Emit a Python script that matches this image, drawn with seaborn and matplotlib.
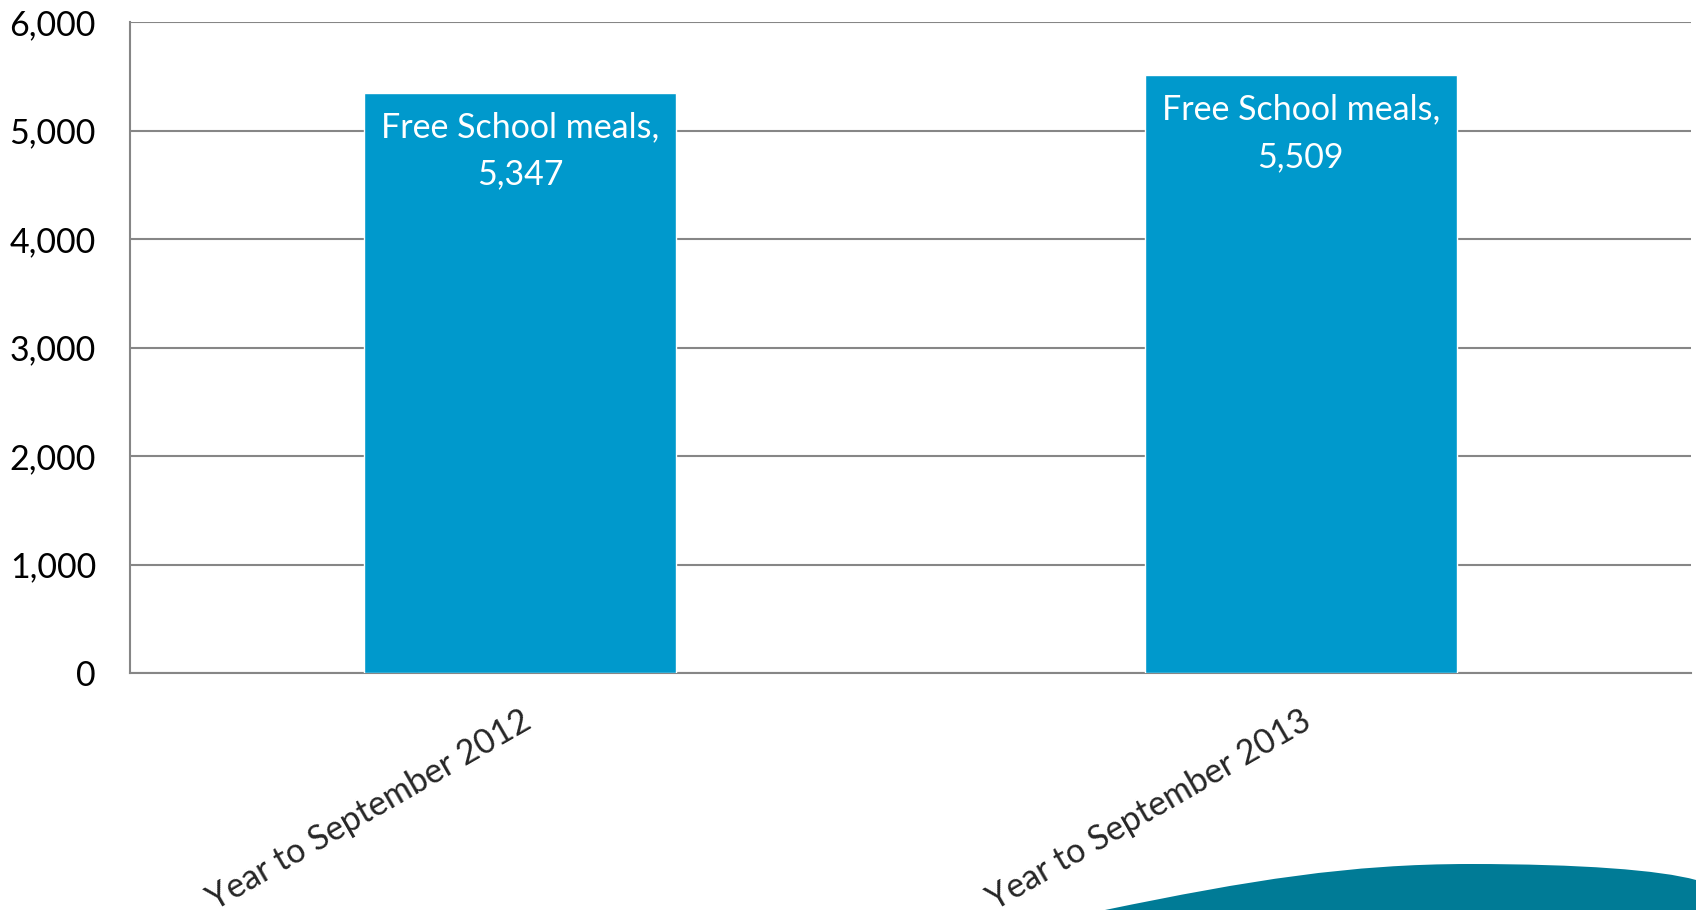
import numpy as np
import pandas as pd
import matplotlib
matplotlib.use("Agg")
import matplotlib.pyplot as plt
from matplotlib.patches import PathPatch
from matplotlib.path import Path
import seaborn as sns

categories = ["Year to September 2012", "Year to September 2013"]
values = [5347, 5509]
series_name = "Free School meals"
yticks = [0, 1000, 2000, 3000, 4000, 5000, 6000]

sns.set_style("white")
plt.rcParams["font.family"] = ["Lato", "DejaVu Sans"]

df = pd.DataFrame({"category": categories, "value": values})

fig = plt.figure(figsize=(16.96, 9.10), dpi=100)
ax = fig.add_axes([130 / 1696, 1 - 673 / 910, (1691 - 130) / 1696, (673 - 22) / 910])

sns.barplot(data=df, x="category", y="value", color="#0099CC", saturation=1,
            width=0.4, ax=ax, zorder=3)

ax.set_xlim(-0.5, 1.5)
ax.set_ylim(0, 6000)
ax.set_yticks(yticks)
ax.set_yticklabels([f"{v:,}" for v in yticks], fontsize=24.5, color="black")
ax.yaxis.grid(True, color="#868686", linewidth=1.5, zorder=0)
ax.set_axisbelow(True)
ax.set_xlabel("")
ax.set_ylabel("")

for side in ["top", "right"]:
    ax.spines[side].set_visible(False)
for side in ["left", "bottom"]:
    ax.spines[side].set_color("#868686")
    ax.spines[side].set_linewidth(1.5)

ax.set_xticks([-0.5, 0.5, 1.5], minor=False)
ax.set_xticklabels(["", "", ""])
ax.set_xticks([0, 1], minor=True)
ax.set_xticklabels(categories, minor=True, fontsize=24.5, rotation=30,
                   ha="right", va="top", rotation_mode="anchor")
ax.tick_params(axis="x", which="major", direction="out", length=8, width=1.5, color="#868686")
ax.tick_params(axis="x", which="minor", length=0, pad=23)
ax.tick_params(axis="y", direction="out", length=8.5, width=1.5, color="#868686", pad=16)

for patch, v in zip(ax.patches, values):
    x = patch.get_x() + patch.get_width() / 2
    ax.annotate(f"{series_name},\n{v:,}", xy=(x, v), xytext=(0, -13),
                textcoords="offset points", ha="center", va="top",
                color="white", fontsize=24.5, linespacing=1.6, zorder=5)

# decorative swoosh at bottom-right
verts = [(1105 / 1696, 0.0), (1250 / 1696, 30 / 910), (1350 / 1696, 46 / 910),
         (1470 / 1696, 46 / 910), (1580 / 1696, 46 / 910), (1660 / 1696, 40 / 910),
         (1696 / 1696, 30 / 910), (1696 / 1696, 0.0), (1105 / 1696, 0.0)]
codes = [Path.MOVETO, Path.CURVE4, Path.CURVE4, Path.CURVE4, Path.CURVE4, Path.CURVE4,
         Path.CURVE4, Path.LINETO, Path.CLOSEPOLY]
fig.patches.append(PathPatch(Path(verts, codes), transform=fig.transFigure,
                             facecolor="#007B96", edgecolor="none"))

fig.savefig("out.png", dpi=100)
